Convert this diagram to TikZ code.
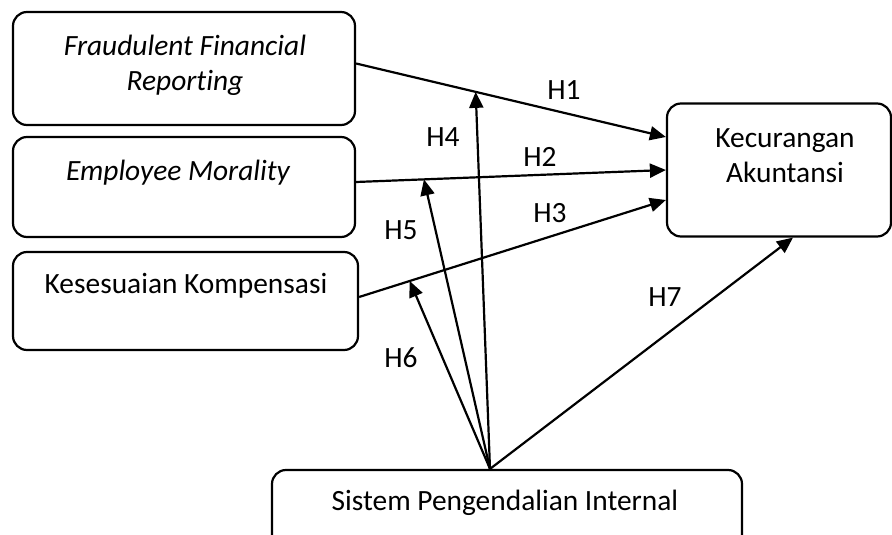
\documentclass[tikz,border=0pt]{standalone}
\usepackage{fontspec}
\setmainfont{Carlito}[Ligatures=NoCommon]
\usetikzlibrary{arrows.meta,calc}

\tikzset{
	box/.style={draw, line width=2.2pt, rounded corners=14pt, inner sep=0pt},
	txt/.style={align=center, font=\fontsize{29.4}{35}\selectfont},
	hyp/.style={font=\fontsize{29.4}{35}\selectfont},
	arr/.style={line width=2.2pt, -{Triangle[length=16pt,width=14pt]}}
}

\begin{document}
\begin{tikzpicture}[x=1pt, y=-1pt]
		\clip (0,0) rectangle (892,535);
		% variable boxes
		\node[box, minimum width=342, minimum height=113] (ffr) at (184,68.5) {};
		\node[box, minimum width=342, minimum height=100] (em) at (184,187) {};
		\node[box, minimum width=345, minimum height=98] (kk) at (185.5,301) {};
		\node[box, minimum width=224, minimum height=133] (ka) at (779,170) {};
		\node[box, minimum width=470, minimum height=110] (spi) at (507,525) {};
		\node[txt] (ffrtext) at (185,65) {\itshape Fraudulent Financial\\\itshape Reporting};
		\node[txt] (emtext) at (178,173) {\itshape Employee Morality};
		\node[txt] (kktext) at (186,286) {Kesesuaian Kompensasi};
		\node[txt] (katext) at (785,156) {Kecurangan\\Akuntansi};
		\node[txt] (spitext) at (505,503) {Sistem Pengendalian Internal};
		% direct paths
		\draw[arr] ($(ffr.east)+(0,-5)$) -- coordinate[pos=0.386] (h1pt) ($(ka.west)+(0,-33)$);
		\draw[arr] ($(em.east)+(0,-5)$) -- coordinate[pos=0.219] (h2pt) ($(ka.west)+(0,0)$);
		\draw[arr] ($(kk.east)+(0,-4)$) -- coordinate[pos=0.165] (h3pt) ($(ka.west)+(0,30)$);
		% moderating paths
		\coordinate (spitop) at ($(spi.north)+(-17,0)$);
		\draw[arr] (spitop) -- (h1pt);
		\draw[arr] (spitop) -- (h2pt);
		\draw[arr] (spitop) -- (h3pt);
		\draw[arr] (spitop) -- ($(ka.south)+(14,0)$);
		% labels
		\node[hyp] (h1) at (564,90) {H1};
		\node[hyp] (h2) at (540,157) {H2};
		\node[hyp] (h3) at (550,213) {H3};
		\node[hyp] (h4) at (443,137) {H4};
		\node[hyp] (h5) at (401,230) {H5};
		\node[hyp] (h6) at (401,358) {H6};
		\node[hyp] (h7) at (665,297) {H7};
	\end{tikzpicture}
\end{document}
